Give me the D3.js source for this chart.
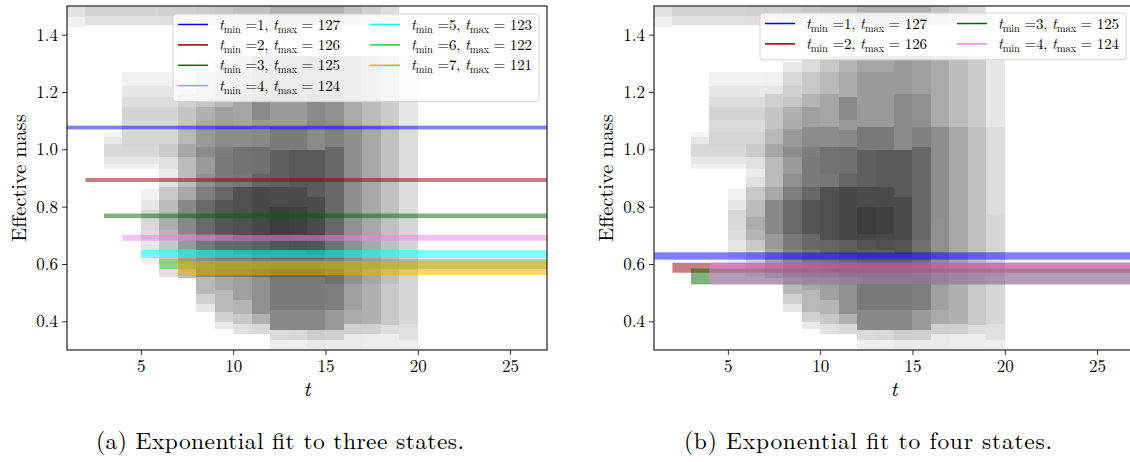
<!DOCTYPE html>
<html>
<head>
<meta charset="utf-8">
<script src="https://cdn.jsdelivr.net/npm/d3@7"></script>
<style>
  body { margin: 0; background: #fff; }
  svg { display: block; }
</style>
</head>
<body>
<svg id="fig" width="1130" height="462"></svg>
<script>
// ---- background: density of windowed fits, one column per time slice [t, t+1] ----
// each band: [mass low, mass high, number of overlapping fits]
const densityT = [1, 2, 3, 4, 5, 6, 7, 8, 9, 10, 11, 12, 13, 14, 15, 16, 17, 18, 19];
const densityBands = [
  [[1.46,1.52,2],[1.427,1.46,1]],
  [[1.465,1.52,3],[1.432,1.465,2]],
  [[1.465,1.52,3],[1.432,1.465,2],[1.043,1.06,0.8],[1.02,1.043,1.5],[0.973,1.02,2.7],[0.95,0.973,1.6],[0.933,0.95,0.9]],
  [[1.465,1.52,3],[1.432,1.465,2],[1.22,1.27,0.9],[1.183,1.22,1.6],[1.148,1.183,2.3],[1.101,1.148,3],[1.06,1.101,2.5],[1.008,1.06,2.9],[0.973,1.008,2.7],[0.95,0.973,1.6],[0.933,0.95,0.9]],
  [[1.465,1.52,3],[1.432,1.465,2],[1.22,1.27,0.9],[1.183,1.22,1.6],[1.148,1.183,2.3],[1.101,1.148,3],[1.06,1.101,2.5],[1.008,1.06,2.9],[0.973,1.008,2.7],[0.95,0.973,1.6],[0.933,0.95,0.9],[0.822,0.863,0.9],[0.787,0.822,1.6],[0.717,0.787,2.7],[0.683,0.717,2.3],[0.636,0.683,1.6],[0.60,0.636,1]],
  [[1.465,1.52,3.3],[1.432,1.465,2.2],[1.22,1.27,0.9],[1.183,1.22,1.6],[1.148,1.183,2.3],[1.101,1.148,3],[1.06,1.101,2.5],[1.02,1.06,2.9],[0.973,1.02,3.8],[0.933,0.973,2],[0.905,0.933,1.3],[0.869,0.905,2],[0.822,0.869,3.9],[0.764,0.822,5],[0.717,0.764,6.4],[0.683,0.717,5.5],[0.648,0.683,3.9],[0.60,0.648,3],[0.555,0.60,2]],
  [[1.465,1.52,3.3],[1.432,1.465,2.2],[1.22,1.27,1],[1.194,1.22,1.6],[1.148,1.194,3.3],[1.072,1.148,4.2],[1.02,1.072,5.3],[0.973,1.02,6.8],[0.869,0.973,4.9],[0.822,0.869,6.7],[0.706,0.822,10.2],[0.653,0.706,8.3],[0.60,0.653,7],[0.55,0.60,5]],
  [[1.465,1.52,3.6],[1.432,1.465,2.4],[1.27,1.305,1.5],[1.22,1.27,2.7],[1.183,1.22,3.3],[1.148,1.183,4.2],[1.101,1.148,6],[1.072,1.101,6.5],[1.008,1.072,8.3],[0.973,1.008,9.9],[0.915,0.973,8.1],[0.869,0.915,9.2],[0.822,0.869,11.4],[0.706,0.822,14.3],[0.65,0.706,12],[0.555,0.65,10],[0.497,0.555,5.3],[0.462,0.497,3.3],[0.433,0.462,1.6]],
  [[1.465,1.52,4],[1.432,1.465,2.6],[1.27,1.31,2.4],[1.194,1.27,3.9],[1.148,1.194,5.6],[1.078,1.148,7.5],[1.008,1.078,9.7],[0.973,1.008,11.4],[0.869,0.973,11.9],[0.822,0.869,14.5],[0.706,0.822,17.7],[0.65,0.706,14.5],[0.555,0.65,12],[0.508,0.555,6.7],[0.433,0.508,5.3],[0.398,0.433,3.3],[0.374,0.398,1.5]],
  [[1.465,1.52,4.6],[1.432,1.465,3],[1.27,1.325,4],[1.194,1.27,5.2],[1.078,1.194,7],[1.008,1.078,9.7],[0.915,1.008,13],[0.869,0.915,12.3],[0.683,0.869,18.7],[0.636,0.683,14.8],[0.555,0.636,12.5],[0.473,0.555,7.5],[0.427,0.473,5.5],[0.392,0.427,3.9],[0.357,0.392,2.1]],
  [[1.465,1.52,4.6],[1.432,1.465,3],[1.27,1.325,5.5],[1.183,1.27,6.6],[1.101,1.183,9.9],[1.066,1.101,8.4],[1.008,1.066,10.2],[0.915,1.008,13.3],[0.869,0.915,15],[0.683,0.869,20.4],[0.636,0.683,16],[0.555,0.636,14],[0.427,0.555,9.2],[0.392,0.427,6],[0.357,0.392,2.7]],
  [[1.465,1.52,6],[1.432,1.465,4],[1.27,1.325,7],[1.078,1.27,8.2],[0.997,1.078,11.9],[0.869,0.997,15.8],[0.80,0.869,20],[0.705,0.80,23.4],[0.683,0.705,21],[0.648,0.683,17.7],[0.555,0.648,15.5],[0.438,0.555,11.9],[0.369,0.438,10.2],[0.334,0.369,2.5],[0.29,0.334,1.1]],
  [[1.465,1.52,6],[1.432,1.465,4],[1.27,1.325,7],[1.078,1.27,8.2],[0.997,1.078,11.9],[0.869,0.997,16.8],[0.80,0.869,20],[0.705,0.80,22.3],[0.683,0.705,20.5],[0.648,0.683,18.7],[0.555,0.648,15.5],[0.438,0.555,11.9],[0.369,0.438,10.2],[0.334,0.369,2.7],[0.29,0.334,1.1]],
  [[1.465,1.52,6],[1.432,1.465,4],[1.194,1.325,8.2],[0.997,1.194,9.9],[0.834,0.997,16.8],[0.683,0.834,20],[0.636,0.683,17.7],[0.555,0.636,15.5],[0.438,0.555,11.9],[0.369,0.438,10.2],[0.334,0.369,3.5],[0.29,0.334,1.5]],
  [[1.465,1.52,6],[1.432,1.465,4],[1.194,1.325,7.5],[1.078,1.194,9.2],[1.008,1.078,11.1],[0.683,1.008,14.5],[0.531,0.683,13.3],[0.438,0.531,11.4],[0.369,0.438,8.3],[0.334,0.369,3.3],[0.29,0.334,1.4]],
  [[1.465,1.52,4.4],[1.432,1.465,3],[1.078,1.325,6.6],[0.764,1.078,9.5],[0.531,0.764,9.2],[0.438,0.531,7.5],[0.392,0.438,6.6],[0.357,0.392,3.4],[0.29,0.357,1.4]],
  [[1.465,1.52,3.3],[1.432,1.465,2.2],[1.078,1.325,4.9],[0.531,1.078,6.7],[0.392,0.531,6],[0.357,0.392,3.3],[0.29,0.357,1.2]],
  [[1.465,1.52,2.3],[1.432,1.465,1.5],[1.078,1.325,3.6],[0.531,1.078,4.6],[0.386,0.531,3.9],[0.357,0.386,2.3],[0.29,0.357,1.2]],
  [[1.078,1.325,1.6],[0.776,1.078,2.4],[0.392,0.776,2.8],[0.334,0.392,2.1],[0.29,0.334,1.1]]
];

// ---- fitted ground-state masses, drawn as mass +/- error bands from t_min to t_max ----
// (a) three-state fits
const threeTmin = [1, 2, 3, 4, 5, 6, 7];
const threeTmax = [127, 126, 125, 124, 123, 122, 121];
const threeMass = [1.076, 0.893, 0.768, 0.691, 0.635, 0.600, 0.586];
const threeErr  = [0.0065, 0.007, 0.008, 0.010, 0.0135, 0.018, 0.025];
// (b) four-state fits
const fourTmin = [1, 2, 3, 4];
const fourTmax = [127, 126, 125, 124];
const fourMass = [0.628, 0.587, 0.5565, 0.567];
const fourErr  = [0.0128, 0.0175, 0.0275, 0.038];

const fitColors = ["#0000ff", "#8b0000", "#006400", "#ee82ee", "#00ffff", "#32cd32", "#ffa500"];

const xTicks = [5, 10, 15, 20, 25];
const yTicks = [0.4, 0.6, 0.8, 1.0, 1.2, 1.4];
const captions = ["(a) Exponential fit to three states.", "(b) Exponential fit to four states."];

const serif = "'Latin Modern Roman', 'Liberation Serif', serif";
const fitAlpha = 0.06;   // opacity of a single background fit band
const bandAlpha = 0.5;

const svg = d3.select("#fig").style("font-family", serif);

function drawPanel(idx, left, right, tmin, tmax, mass, err, legendBox, captionX) {
  const top = 6, bottom = 350;
  const xs = d3.scaleLinear().domain([1, 27]).range([left, right]);
  const ys = d3.scaleLinear().domain([0.3, 1.5]).range([bottom, top]);
  const g = svg.append("g");

  const clipId = "clip" + idx;
  svg.append("clipPath").attr("id", clipId)
    .append("rect").attr("x", left).attr("y", top)
    .attr("width", right - left).attr("height", bottom - top);

  const plot = g.append("g").attr("clip-path", `url(#${clipId})`);

  // density columns
  const cells = [];
  densityT.forEach((t, i) => densityBands[i].forEach(b => cells.push({ t, lo: b[0], hi: b[1], n: b[2] })));
  plot.append("g").attr("shape-rendering", "crispEdges")
    .selectAll("rect").data(cells).join("rect")
    .attr("x", d => xs(d.t))
    .attr("width", d => xs(d.t + 1) - xs(d.t))
    .attr("y", d => ys(d.hi))
    .attr("height", d => ys(d.lo) - ys(d.hi))
    .attr("fill", "#000")
    .attr("fill-opacity", d => 1 - Math.pow(1 - fitAlpha, d.n));

  // fit bands
  const fits = tmin.map((t, i) => ({ t0: t, t1: tmax[i], m: mass[i], e: err[i], c: fitColors[i] }));
  plot.append("g").selectAll("rect").data(fits).join("rect")
    .attr("x", d => xs(d.t0))
    .attr("width", d => xs(d.t1) - xs(d.t0))
    .attr("y", d => ys(d.m + d.e))
    .attr("height", d => ys(d.m - d.e) - ys(d.m + d.e))
    .attr("fill", d => d.c)
    .attr("fill-opacity", bandAlpha);

  // axes
  const xAxis = g.append("g").attr("transform", `translate(0,${bottom})`)
    .call(d3.axisBottom(xs).tickValues(xTicks).tickSize(5).tickPadding(5).tickFormat(d3.format("d")));
  const yAxis = g.append("g").attr("transform", `translate(${left},0)`)
    .call(d3.axisLeft(ys).tickValues(yTicks).tickSize(5).tickPadding(4).tickFormat(d3.format(".1f")));
  [xAxis, yAxis].forEach(a => {
    a.attr("font-family", null).attr("font-size", null)
      .style("font-family", serif).style("font-size", "17px");
    a.select(".domain").remove();
    a.selectAll(".tick line").attr("stroke", "#333").attr("stroke-width", 1);
    a.selectAll(".tick text").attr("fill", "#000");
  });

  // spines
  g.append("rect").attr("x", left).attr("y", top)
    .attr("width", right - left).attr("height", bottom - top)
    .attr("fill", "none").attr("stroke", "#222").attr("stroke-width", 1.2);

  // axis labels
  g.append("text").attr("x", (left + right) / 2).attr("y", 396)
    .attr("text-anchor", "middle").style("font-style", "italic").style("font-size", "21px").text("t");
  g.append("text").attr("transform", `translate(${left - 41},${(top + bottom) / 2}) rotate(-90)`)
    .attr("text-anchor", "middle").style("font-size", "20.5px").text("Effective mass");

  // legend
  const nRows = Math.ceil(fits.length / 2);
  const lg = g.append("g");
  lg.append("rect").attr("x", legendBox.x).attr("y", legendBox.y)
    .attr("width", legendBox.w).attr("height", 5 + nRows * 20.4 + 1)
    .attr("rx", 3).attr("fill", "#fff").attr("fill-opacity", 0.8)
    .attr("stroke", "#d4d4d4").attr("stroke-width", 1);
  fits.forEach((d, i) => {
    const col = Math.floor(i / nRows), row = i % nRows;
    const x = legendBox.x + 5 + col * 192;
    const y = legendBox.y + 10.5 + row * 20.4;
    lg.append("line").attr("x1", x).attr("x2", x + 30).attr("y1", y).attr("y2", y)
      .attr("stroke", d.c).attr("stroke-width", 1.5);
    const tx = lg.append("text").attr("x", x + 41).attr("y", y + 5)
      .attr("textLength", 121).attr("lengthAdjust", "spacing")
      .style("font-size", "15px").style("white-space", "pre");
    tx.append("tspan").style("font-style", "italic").text("t");
    tx.append("tspan").attr("dy", 3).style("font-size", "10.5px").text("min");
    tx.append("tspan").attr("dy", -3).text(` =${d.t0}, `);
    tx.append("tspan").style("font-style", "italic").text("t");
    tx.append("tspan").attr("dy", 3).style("font-size", "10.5px").text("max");
    tx.append("tspan").attr("dy", -3).text(` = ${d.t1}`);
  });

  // caption
  svg.append("text").attr("x", captionX).attr("y", 449)
    .attr("text-anchor", "middle").style("font-size", "23.5px")
    .attr("textLength", 368).attr("lengthAdjust", "spacing")
    .text(captions[idx]);
}

drawPanel(0, 67, 547, threeTmin, threeTmax, threeMass, threeErr, { x: 173, y: 14, w: 366 }, 280);
drawPanel(1, 654, 1134, fourTmin, fourTmax, fourMass, fourErr, { x: 760, y: 13, w: 366 }, 868);
</script>
</body>
</html>
